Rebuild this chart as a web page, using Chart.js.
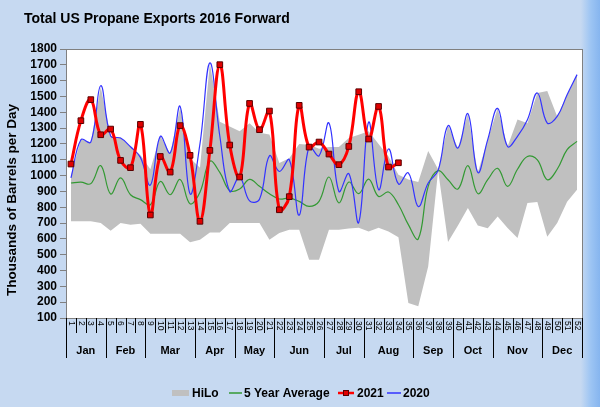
<!DOCTYPE html>
<html><head><meta charset="utf-8">
<script src="https://cdn.jsdelivr.net/npm/chart.js@4"></script>
<style>
html,body{margin:0;padding:0;width:600px;height:407px;overflow:hidden;}
body{background:linear-gradient(to right,#c6d9f1 0%,#c6d9f1 96.8%,#9cc4f3 98.5%,#86b5ef 100%);}
canvas{display:block;}
</style></head><body>
<canvas id="c" width="600" height="407"></canvas>
<script>
const weekLabels = ['1','2','3','4','5','6','7','8','9','10','11','12','13','14','15','16','17','18','19','20','21','22','23','24','25','26','27','28','29','30','31','32','33','34','35','36','37','38','39','40','41','42','43','44','45','46','47','48','49','50','51','52'];
const months = ['Jan','Feb','Mar','Apr','May','Jun','Jul','Aug','Sep','Oct','Nov','Dec'];
const weeksPerMonth = [4,4,5,4,4,5,4,5,4,4,5,4];

const hiloLow = [711,711,711,700,652,700,690,695,633,633,633,633,578,595,641,641,700,700,700,700,595,637,658,658,468,468,658,658,665,670,647,670,647,610,195,175,426,1030,580,685,795,685,667,742,669,605,827,833,614,700,835,911];
const hiloHigh = [1000,1230,1210,1560,1250,1240,1180,1130,1040,1250,1140,1430,1110,1050,1710,1340,1310,1280,1330,1270,1260,1080,1110,1200,1195,1170,1180,1180,1237,1258,1280,1200,1120,1005,975,960,1155,1040,1316,1174,1391,1020,1227,1425,1184,1355,1330,1522,1535,1374,1511,1638];
const avg5 = [953,959,949,1063,884,985,879,848,816,963,879,975,822,895,1090,1020,905,915,976,932,885,852,858,837,805,837,991,827,959,886,978,868,896,816,690,600,932,1031,974,915,1063,886,974,1046,932,1040,1121,1100,974,1040,1164,1216];
const y2021 = [1073,1347,1480,1258,1294,1096,1050,1324,751,1121,1022,1316,1128,711,1159,1701,1193,991,1456,1290,1408,784,867,1444,1180,1212,1136,1069,1184,1530,1231,1437,1054,1081];
const y2020 = [985,1227,1212,1568,1250,1237,1182,1115,940,1248,1143,1437,885,1200,1712,1250,900,990,840,850,1125,1026,1100,750,1184,1125,1332,900,1012,704,1338,911,1168,947,1017,805,953,1033,1316,1174,1391,1020,1227,1425,1184,1248,1353,1522,1332,1374,1511,1638];

const FONT = 'Arial, "Liberation Sans", sans-serif';
const yTitle = 'Thousands of Barrels per Day';
const chartTitle = 'Total US Propane Exports 2016 Forward';

const decor = {
  id: 'decor',
  beforeDraw(chart) {
    const {ctx, chartArea: a} = chart;
    ctx.save();
    ctx.fillStyle = '#ffffff';
    ctx.fillRect(a.left, a.top, a.right - a.left, a.bottom - a.top);
    ctx.restore();
  },
  afterDraw(chart) {
    const {ctx, chartArea: a} = chart;
    const xs = chart.scales.x;
    ctx.save();
    // plot border
    ctx.strokeStyle = '#808080';
    ctx.lineWidth = 1;
    ctx.strokeRect(Math.round(a.left) + 0.5, Math.round(a.top) + 0.5, Math.round(a.right - a.left), Math.round(a.bottom - a.top));

    // week labels (rotated) and separators
    const n = weekLabels.length;
    const step = xs.getPixelForValue(1) - xs.getPixelForValue(0);
    ctx.fillStyle = '#000';
    ctx.font = '8.5px ' + FONT;
    ctx.textAlign = 'left';
    ctx.textBaseline = 'middle';
    for (let i = 0; i < n; i++) {
      const x = xs.getPixelForValue(i);
      ctx.save();
      ctx.translate(x, a.bottom + 3);
      ctx.rotate(Math.PI / 2);
      ctx.fillText(weekLabels[i], 0, 0);
      ctx.restore();
    }
    ctx.strokeStyle = '#000';
    ctx.lineWidth = 1;
    for (let i = 0; i <= n; i++) {
      const x = Math.round(xs.getPixelForValue(0) - step / 2 + i * step) + 0.5;
      ctx.beginPath();
      ctx.moveTo(x, a.bottom);
      ctx.lineTo(x, a.bottom + 15);
      ctx.stroke();
    }
    // months
    ctx.font = 'bold 11px ' + FONT;
    ctx.textAlign = 'center';
    let start = 0;
    for (let m = 0; m <= months.length; m++) {
      const bx = Math.round(xs.getPixelForValue(0) - step / 2 + start * step) + 0.5;
      ctx.beginPath();
      ctx.moveTo(bx, a.bottom);
      ctx.lineTo(bx, a.bottom + 40);
      ctx.stroke();
      if (m < months.length) {
        const cx = (xs.getPixelForValue(start) + xs.getPixelForValue(start + weeksPerMonth[m] - 1)) / 2;
        ctx.fillText(months[m], cx, a.bottom + 33);
        start += weeksPerMonth[m];
      }
    }

    // title
    ctx.textAlign = 'left';
    ctx.textBaseline = 'alphabetic';
    ctx.font = 'bold 14px ' + FONT;
    ctx.fillText(chartTitle, 24, 23);

    // y axis title
    ctx.save();
    ctx.translate(12, 200);
    ctx.rotate(-Math.PI / 2);
    ctx.font = 'bold 13.5px ' + FONT;
    ctx.textAlign = 'center';
    ctx.textBaseline = 'middle';
    ctx.fillText(yTitle, 0, 0);
    ctx.restore();

    // legend
    const ds = chart.data.datasets;
    const items = [
      {d: ds[1], type: 'box', sx: 172, sw: 17, tx: 192},
      {d: ds[2], type: 'line', sx: 229, sw: 13, tx: 244},
      {d: ds[4], type: 'marker', sx: 338, sw: 16, tx: 357},
      {d: ds[3], type: 'line', sx: 387, sw: 14, tx: 403}
    ];
    const ly = 393;
    ctx.font = 'bold 12px ' + FONT;
    ctx.textBaseline = 'middle';
    ctx.textAlign = 'left';
    for (const it of items) {
      if (it.type === 'box') {
        ctx.fillStyle = it.d.backgroundColor;
        ctx.fillRect(it.sx, ly - 3, it.sw, 6);
      } else {
        ctx.strokeStyle = it.d.borderColor;
        ctx.lineWidth = it.type === 'marker' ? 2.5 : 1.5;
        ctx.beginPath();
        ctx.moveTo(it.sx, ly);
        ctx.lineTo(it.sx + it.sw, ly);
        ctx.stroke();
        if (it.type === 'marker') {
          ctx.fillStyle = it.d.pointBackgroundColor;
          ctx.strokeStyle = it.d.pointBorderColor;
          ctx.lineWidth = 1;
          const cx = it.sx + it.sw / 2;
          ctx.fillRect(cx - 3, ly - 3, 6, 6);
          ctx.strokeRect(cx - 2.5, ly - 2.5, 5, 5);
        }
      }
      ctx.fillStyle = '#000';
      ctx.fillText(it.d.label, it.tx, ly + 0.5);
    }
    ctx.restore();
  }
};

new Chart(document.getElementById('c'), {
  type: 'line',
  data: {
    labels: weekLabels,
    datasets: [
      {label: 'Lo', data: hiloLow, borderColor: 'rgba(0,0,0,0)', borderWidth: 0, pointRadius: 0, fill: false, tension: 0, order: 10},
      {label: 'HiLo', data: hiloHigh, borderColor: 'rgba(0,0,0,0)', backgroundColor: '#c0c0c0', borderWidth: 0, pointRadius: 0, fill: '-1', tension: 0, order: 9},
      {label: '5 Year Average', data: avg5, borderColor: '#339933', borderWidth: 1.2, pointRadius: 0, fill: false, tension: 0.4, order: 3},
      {label: '2020', data: y2020, borderColor: '#3333ff', borderWidth: 1.2, pointRadius: 0, fill: false, tension: 0.4, order: 2},
      {label: '2021', data: y2021, borderColor: '#ff0000', borderWidth: 3, pointStyle: 'rect', pointRadius: 4, pointBackgroundColor: '#e00000', pointBorderColor: '#5a0000', pointBorderWidth: 1, fill: false, tension: 0.4, order: 1}
    ]
  },
  options: {
    responsive: false,
    animation: false,
    devicePixelRatio: 1,
    layout: {padding: {top: 49, right: 18, bottom: 59, left: 0}},
    plugins: {legend: {display: false}, title: {display: false}, tooltip: {enabled: false}},
    scales: {
      x: {
        type: 'category',
        offset: true,
        grid: {display: false},
        border: {display: false},
        ticks: {display: false},
        afterFit(s) { s.height = 30; }
      },
      y: {
        min: 100, max: 1800,
        ticks: {stepSize: 100, autoSkip: false, color: '#000', font: {family: FONT, size: 12, weight: 'bold'}, padding: 3, callback: v => String(v)},
        grid: {drawOnChartArea: false, drawTicks: true, tickLength: 6, color: '#808080'},
        border: {display: false},
        afterFit(s) { s.width = 66; }
      }
    }
  },
  plugins: [decor]
});
</script>
</body></html>
